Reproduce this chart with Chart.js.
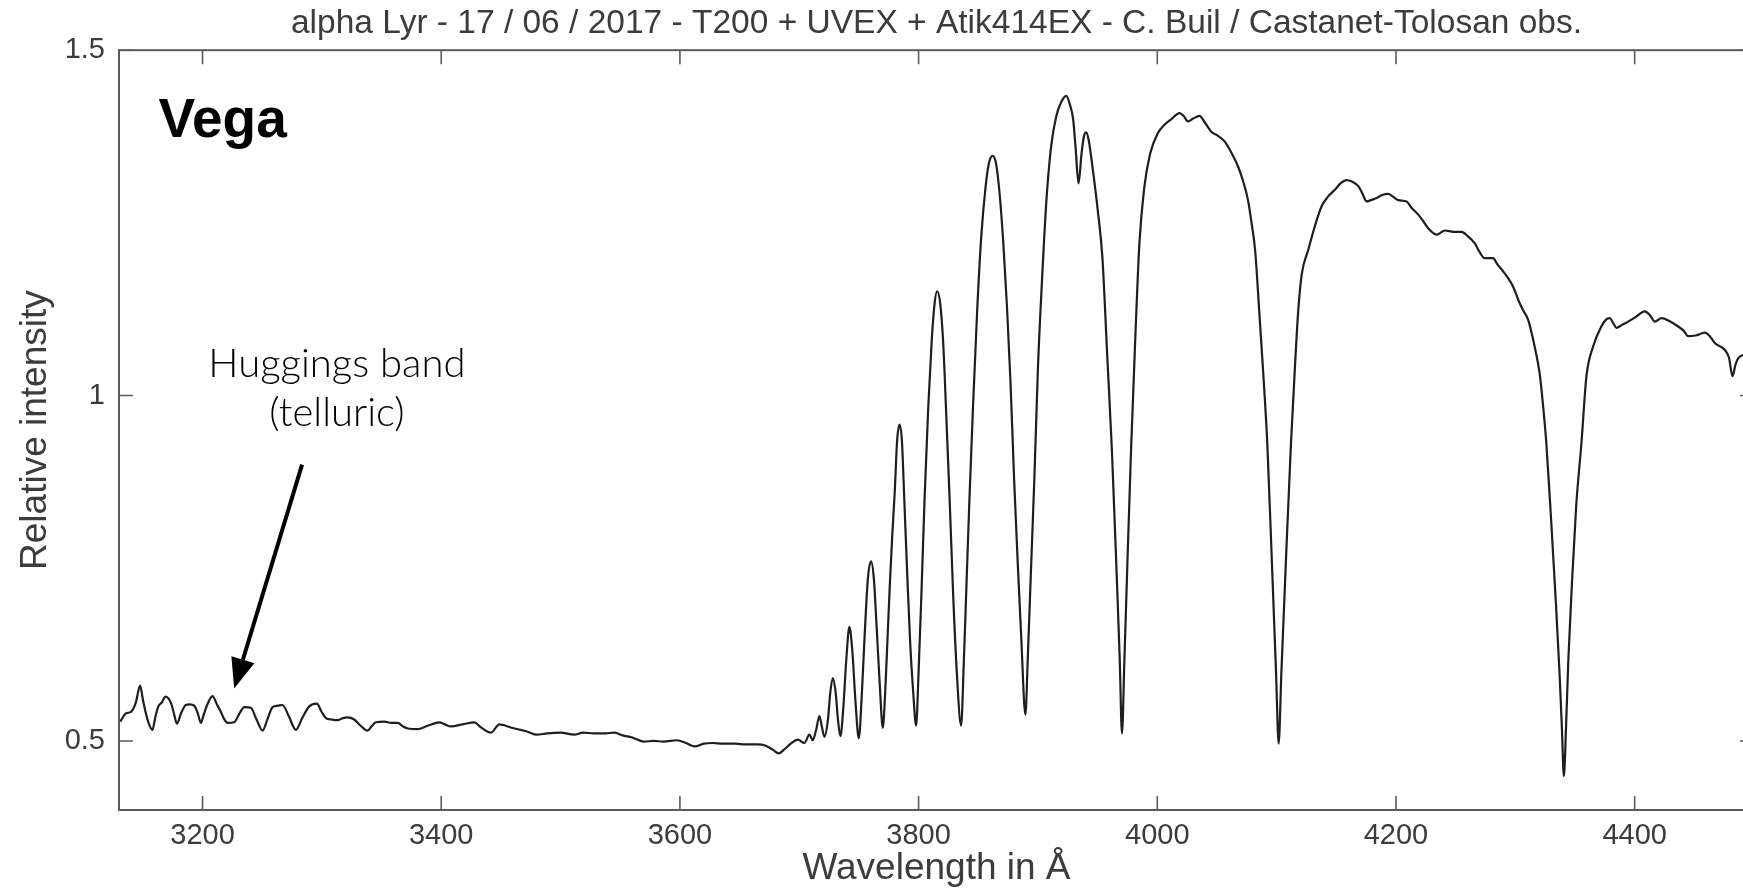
<!DOCTYPE html>
<html>
<head>
<meta charset="utf-8">
<title>Vega spectrum</title>
<script src="https://cdn.jsdelivr.net/npm/chart.js@4.4.1/dist/chart.umd.min.js"></script>
<style>
  html, body { margin: 0; padding: 0; background: #fff; overflow: hidden; }
  canvas { display: block; }
</style>
</head>
<body>
<canvas id="myChart" width="1760" height="892"></canvas>
<script>
// spectrum: wavelength (Angstrom) / relative intensity
const wavelength = [
  3131, 3136, 3140, 3144, 3147.7, 3150, 3152.5, 3155, 3158, 3160.5, 3163, 3166, 3169, 3173.5, 3176, 3178.5,
  3182, 3186, 3189, 3193, 3196, 3198.6, 3201, 3203.6, 3208.4, 3212, 3215.4, 3218, 3221, 3226.5, 3231, 3235,
  3240.5, 3245, 3250.3, 3254.5, 3258.7, 3263, 3267, 3272.5, 3278.2, 3283.5, 3289.4, 3295.8, 3299.5, 3303.4,
  3308, 3313.2, 3317.5, 3321.6, 3327, 3332.5, 3338.3, 3342, 3345.3, 3352.3, 3358, 3363.5, 3368, 3372, 3380.2,
  3388.6, 3398.4, 3403, 3408.2, 3418, 3427.7, 3433, 3441.7, 3448.7, 3452, 3459, 3466.5, 3473, 3479.7, 3489,
  3500, 3511.4, 3518.8, 3528, 3537.7, 3545.1, 3552, 3560.1, 3569.4, 3578, 3586.3, 3597.5, 3605, 3612.5, 3620,
  3627.4, 3636, 3646.1, 3655, 3664.9, 3672, 3678, 3682.8, 3687, 3692.9, 3698.8, 3704.3, 3708.5, 3711.3, 3714,
  3716.9, 3719, 3721.1, 3724, 3726, 3728.1, 3730.5, 3732.5, 3734.5, 3737, 3739.5, 3742, 3744.5, 3747, 3749.9,
  3752.5, 3755, 3757.5, 3760.2, 3762.5, 3765, 3767.5, 3770, 3772, 3774, 3776, 3778, 3780, 3782, 3784, 3786,
  3788, 3790.5, 3793, 3795.5, 3797.9, 3800, 3802.5, 3805, 3808, 3811, 3813.5, 3815.5, 3818, 3820.5, 3823, 3826,
  3829, 3832, 3835.6, 3838, 3840, 3842.6, 3845.5, 3849, 3852.5, 3856, 3859, 3862, 3865, 3868, 3871, 3874, 3877,
  3880, 3883, 3886, 3889.5, 3891.5, 3894, 3897, 3900, 3903.5, 3907, 3911, 3915.3, 3919.5, 3923.7, 3927, 3929.5,
  3931.5, 3934, 3936.5, 3938.5, 3940.4, 3942.5, 3946, 3950, 3954, 3958, 3962, 3966, 3968.5, 3970.4, 3972.5, 3975,
  3978, 3981.5, 3985, 3989, 3994, 4000.5, 4006, 4011.7, 4018.7, 4022, 4025.7, 4030, 4035.4, 4040, 4045.2, 4050,
  4056.4, 4062, 4067.6, 4072, 4076, 4079, 4082, 4085.5, 4088.5, 4092.2, 4096, 4099.5, 4101.7, 4104, 4108, 4112,
  4115.3, 4118, 4121, 4126.5, 4132, 4137.7, 4143, 4148.8, 4154, 4158.6, 4163, 4168.5, 4172, 4175.4, 4179, 4183.8,
  4188, 4193.5, 4197.5, 4201.9, 4208.9, 4213, 4218.7, 4223, 4227.1, 4234, 4241, 4248, 4255, 4260, 4266.2, 4270,
  4274.3, 4281.3, 4285, 4289.7, 4294, 4298.1, 4303.6, 4307, 4310.7, 4316.2, 4320.4, 4323, 4326, 4330, 4334, 4337,
  4339, 4340.7, 4342.5, 4344.5, 4347.5, 4351, 4355.4, 4359.6, 4365.2, 4372.1, 4376, 4379.1, 4382, 4384.8, 4389,
  4394.5, 4401, 4408.5, 4413, 4416.9, 4422.5, 4429, 4436.5, 4441, 4444.9, 4451, 4458.8, 4463, 4467.2, 4475.6,
  4479, 4482, 4484.5, 4486.7, 4492, 4500
];
const intensity = [
  0.528, 0.540, 0.542, 0.555, 0.580, 0.560, 0.540, 0.525, 0.516, 0.535, 0.550, 0.556, 0.564, 0.555, 0.540, 0.525,
  0.540, 0.552, 0.553, 0.551, 0.540, 0.526, 0.538, 0.551, 0.565, 0.553, 0.542, 0.532, 0.526, 0.527, 0.540, 0.549,
  0.548, 0.532, 0.515, 0.532, 0.549, 0.551, 0.552, 0.535, 0.516, 0.533, 0.550, 0.554, 0.543, 0.533,
  0.531, 0.530, 0.533, 0.534, 0.531, 0.522, 0.515, 0.522, 0.527, 0.528, 0.526, 0.526, 0.521, 0.518, 0.517,
  0.522, 0.527, 0.524, 0.521, 0.524, 0.527, 0.520, 0.512, 0.524, 0.523, 0.519, 0.516, 0.513, 0.509, 0.511,
  0.512, 0.509, 0.512, 0.511, 0.511, 0.512, 0.508, 0.505, 0.499, 0.500, 0.499, 0.501, 0.497, 0.492, 0.496,
  0.497, 0.496, 0.496, 0.495, 0.495, 0.493, 0.487, 0.482, 0.487, 0.496, 0.502, 0.497, 0.509, 0.501, 0.515,
  0.536, 0.520, 0.506, 0.530, 0.570, 0.591, 0.570, 0.530, 0.507, 0.550, 0.620, 0.665, 0.630, 0.560, 0.504,
  0.570, 0.660, 0.735, 0.760, 0.735, 0.660, 0.580, 0.519, 0.570, 0.650, 0.730, 0.800, 0.860, 0.935, 0.958, 0.935,
  0.850, 0.740, 0.640, 0.570, 0.522, 0.600, 0.720, 0.850, 0.980, 1.080, 1.135, 1.151, 1.135, 1.080, 0.980, 0.850,
  0.710, 0.600, 0.522, 0.620, 0.720, 0.850, 0.980, 1.120, 1.230, 1.300, 1.337, 1.347, 1.335, 1.290, 1.220, 1.130, 1.020,
  0.880, 0.760, 0.650, 0.538, 0.620, 0.740, 0.880, 1.040, 1.170, 1.280, 1.360, 1.404, 1.425, 1.434, 1.420, 1.400,
  1.360, 1.307, 1.350, 1.375, 1.381, 1.370, 1.327, 1.270, 1.200, 1.060, 0.920, 0.740, 0.620, 0.511, 0.620, 0.760,
  0.920, 1.080, 1.220, 1.300, 1.350, 1.380, 1.392, 1.400, 1.409, 1.405, 1.397, 1.401, 1.405, 1.395, 1.382, 1.377,
  1.368, 1.352, 1.332, 1.310, 1.283, 1.250, 1.210, 1.120, 1.040, 0.930, 0.760, 0.600, 0.496, 0.600, 0.770, 0.930,
  1.040, 1.120, 1.175, 1.211, 1.245, 1.274, 1.288, 1.298, 1.308, 1.312, 1.310, 1.303, 1.292, 1.281, 1.283, 1.286,
  1.290, 1.292, 1.288, 1.283, 1.281, 1.272, 1.262, 1.252, 1.242, 1.233, 1.239, 1.237, 1.237, 1.231, 1.220, 1.208,
  1.199, 1.199, 1.190, 1.180, 1.170, 1.158, 1.134, 1.122, 1.110, 1.071, 1.032, 0.990, 0.931, 0.820, 0.700, 0.600,
  0.520, 0.449, 0.520, 0.620, 0.730, 0.840, 0.931, 1.028, 1.071, 1.100, 1.110, 1.112, 1.105, 1.098, 1.102,
  1.107, 1.114, 1.122, 1.116, 1.107, 1.112, 1.108, 1.100, 1.094, 1.086, 1.087, 1.091, 1.086, 1.076, 1.066,
  1.055, 1.028, 1.045, 1.054, 1.059, 1.060
];

const xTicks = [3200, 3400, 3600, 3800, 4000, 4200, 4400];
const xTickLabels = ['3200', '3400', '3600', '3800', '4000', '4200', '4400'];
const yTicks = [0.5, 1, 1.5];
const yTickLabels = ['0.5', '1', '1.5'];

const FONT = "'Liberation Sans', Arial, Helvetica, sans-serif";
const TEXT_GREY = '#3c3c3c';

// box, inward tick marks and the annotations (placed in data units)
const framePlugin = {
  id: 'frame',
  afterDraw(chart) {
    const ctx = chart.ctx;
    const a = chart.chartArea;
    const x = chart.scales.x;
    const y = chart.scales.y;
    ctx.save();
    ctx.strokeStyle = '#5a5a5a';
    ctx.lineWidth = 2;
    ctx.strokeRect(a.left, a.top, a.right - a.left, a.bottom - a.top);

    ctx.lineWidth = 1.6;
    ctx.beginPath();
    xTicks.forEach(v => {
      const px = x.getPixelForValue(v);
      ctx.moveTo(px, a.bottom); ctx.lineTo(px, a.bottom - 14);
      ctx.moveTo(px, a.top); ctx.lineTo(px, a.top + 14);
    });
    yTicks.forEach(v => {
      const py = y.getPixelForValue(v);
      ctx.moveTo(a.left, py); ctx.lineTo(a.left + 14, py);
      ctx.moveTo(a.right, py); ctx.lineTo(a.right - 14, py);
    });
    ctx.stroke();

    // star name
    ctx.fillStyle = '#000';
    ctx.font = 'bold 55px ' + FONT;
    ctx.textAlign = 'left';
    ctx.textBaseline = 'alphabetic';
    ctx.fillText('Vega', x.getPixelForValue(3163), y.getPixelForValue(1.375));

    // telluric band note
    ctx.fillStyle = '#000';
    ctx.font = '300 40px Lato, ' + FONT;
    ctx.textAlign = 'center';
    ctx.textBaseline = 'middle';
    const cx = x.getPixelForValue(3312.6);
    ctx.fillText('Huggings band', cx, y.getPixelForValue(1.045));
    ctx.fillText('(telluric)', cx, y.getPixelForValue(0.974));

    // arrow
    const x0 = x.getPixelForValue(3283.4), y0 = y.getPixelForValue(0.900);
    const x1 = x.getPixelForValue(3226.5), y1 = y.getPixelForValue(0.576);
    const ang = Math.atan2(y1 - y0, x1 - x0);
    const headLen = 30, headHalf = 12;
    const bx = x1 - headLen * Math.cos(ang), by = y1 - headLen * Math.sin(ang);
    ctx.strokeStyle = '#000';
    ctx.lineWidth = 4;
    ctx.beginPath();
    ctx.moveTo(x0, y0);
    ctx.lineTo(bx, by);
    ctx.stroke();
    ctx.fillStyle = '#000';
    ctx.beginPath();
    ctx.moveTo(x1, y1);
    ctx.lineTo(bx + headHalf * Math.sin(ang), by - headHalf * Math.cos(ang));
    ctx.lineTo(bx - headHalf * Math.sin(ang), by + headHalf * Math.cos(ang));
    ctx.closePath();
    ctx.fill();
    ctx.restore();
  }
};

const ctx = document.getElementById('myChart').getContext('2d');
const myChart = new Chart(ctx, {
  type: 'line',
  data: {
    datasets: [{
      label: 'alpha Lyr',
      data: wavelength.map((w, i) => ({ x: w, y: intensity[i] })),
      borderColor: '#1e1e1e',
      borderWidth: 2.2,
      pointRadius: 0,
      cubicInterpolationMode: 'monotone',
      fill: false
    }]
  },
  options: {
    responsive: false,
    animation: false,
    devicePixelRatio: 1,
    layout: { padding: { left: 0, right: 6, top: 0, bottom: 0 } },
    plugins: {
      legend: { display: false },
      tooltip: { enabled: false },
      title: {
        display: true,
        fullSize: false,
        text: 'alpha Lyr - 17 / 06 / 2017 - T200 + UVEX + Atik414EX - C. Buil / Castanet-Tolosan obs.',
        color: TEXT_GREY,
        font: { family: FONT, size: 33.5, weight: 'normal', lineHeight: 1.2 },
        padding: { top: 4, bottom: 6 }
      }
    },
    scales: {
      x: {
        type: 'linear',
        position: 'bottom',
        min: 3130,
        max: 4500,
        afterBuildTicks: s => { s.ticks = xTicks.map(v => ({ value: v })); },
        afterFit: s => { s.height = 82; },
        grid: { display: false, drawTicks: false },
        border: { display: false },
        ticks: {
          autoSkip: false,
          maxRotation: 0,
          padding: 9,
          color: TEXT_GREY,
          font: { family: FONT, size: 29 },
          callback: (v, i) => xTickLabels[i]
        },
        title: {
          display: true,
          text: 'Wavelength in Å',
          color: TEXT_GREY,
          font: { family: FONT, size: 37, lineHeight: 1.2 },
          padding: { top: 0, bottom: 1 }
        }
      },
      y: {
        type: 'linear',
        position: 'left',
        min: 0.4,
        max: 1.5,
        afterBuildTicks: s => { s.ticks = yTicks.map(v => ({ value: v })); },
        afterFit: s => { s.width = 119; },
        grid: { display: false, drawTicks: false },
        border: { display: false },
        ticks: {
          autoSkip: false,
          padding: 14,
          color: TEXT_GREY,
          font: { family: FONT, size: 29 },
          callback: (v, i) => yTickLabels[i]
        },
        title: {
          display: true,
          text: 'Relative intensity',
          color: TEXT_GREY,
          font: { family: FONT, size: 37, lineHeight: 1.2 },
          padding: { top: 14, bottom: 0 }
        }
      }
    }
  },
  plugins: [framePlugin]
});
</script>
</body>
</html>
